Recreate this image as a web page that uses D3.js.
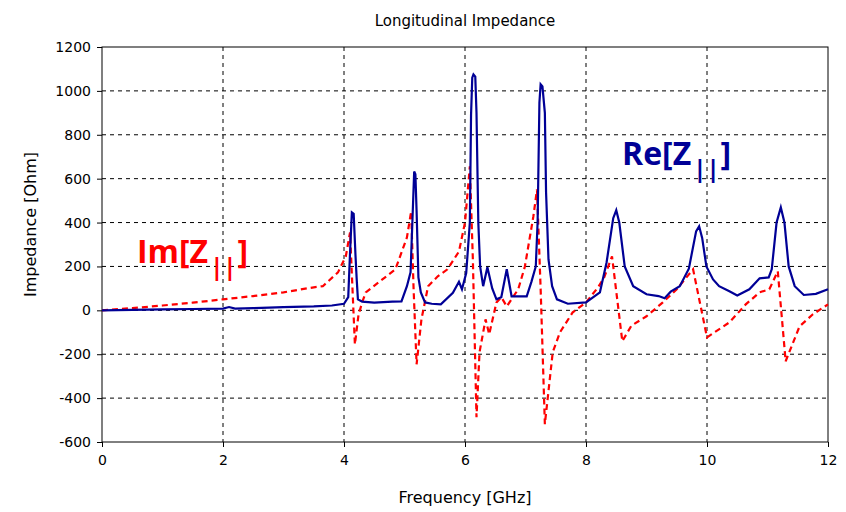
<!DOCTYPE html>
<html>
<head>
<meta charset="utf-8">
<script src="https://d3js.org/d3.v7.min.js"></script>
<style>
  body { margin: 0; background: #fff; }
  text { font-family: "DejaVu Sans", sans-serif; }
</style>
</head>
<body>
<div id="chart"></div>
<script>
// tick values
const xTicks = [0, 2, 4, 6, 8, 10, 12];
const yTicks = [-600, -400, -200, 0, 200, 400, 600, 800, 1000, 1200];

// Re[Z||] (solid blue)
const reFreq = [0, 0.5, 1.0, 1.5, 2.0, 2.1, 2.2, 2.5, 3.0, 3.5, 3.8, 4.0, 4.07, 4.1, 4.13, 4.16, 4.19, 4.21, 4.23, 4.3, 4.5, 4.8,
  4.95, 5.04, 5.1, 5.13, 5.16, 5.18, 5.2, 5.23, 5.27, 5.34, 5.45, 5.6, 5.8, 5.9, 5.95, 6.02, 6.08, 6.1, 6.12, 6.14, 6.17, 6.19,
  6.22, 6.25, 6.3, 6.37, 6.45, 6.52, 6.6, 6.69, 6.77, 7.02, 7.1, 7.17, 7.2, 7.23, 7.25, 7.28, 7.32, 7.34, 7.38, 7.44, 7.52, 7.7,
  8.0, 8.23, 8.34, 8.45, 8.5, 8.55, 8.64, 8.78, 9.0, 9.2, 9.3, 9.4, 9.55, 9.7, 9.82, 9.87, 9.92, 9.99, 10.1, 10.2, 10.37, 10.5,
  10.7, 10.87, 11.02, 11.07, 11.15, 11.22, 11.28, 11.35, 11.45, 11.6, 11.8, 12];
const reVal = [0, 2, 4, 6, 8, 15, 8, 10, 15, 18, 22, 30, 60, 264, 446, 440, 250, 141, 50, 40, 35, 40,
  41, 110, 173, 400, 633, 620, 450, 150, 82, 36, 30, 27, 80, 130, 96, 170, 400, 890, 1060, 1075, 1065, 900,
  400, 200, 110, 196, 100, 50, 60, 187, 64, 64, 132, 200, 400, 946, 1030, 1020, 900, 537, 232, 110, 50, 30,
  36, 82, 218, 420, 456, 400, 200, 110, 73, 65, 55, 85, 110, 190, 360, 383, 330, 200, 141, 110, 87, 68,
  96, 146, 150, 187, 400, 469, 400, 200, 110, 70, 75, 96];

// Im[Z||] (dashed red)
const imFreq = [0, 0.5, 1, 1.5, 2, 2.5, 3, 3.5, 3.65, 3.9, 4.03, 4.1, 4.14, 4.18, 4.24, 4.3, 4.36, 4.57, 4.85, 5.04, 5.11,
  5.15, 5.2, 5.28, 5.39, 5.55, 5.71, 5.9, 6.0, 6.08, 6.13, 6.19, 6.24, 6.34, 6.4, 6.52, 6.6, 6.69, 6.88, 6.99, 7.13, 7.19,
  7.25, 7.32, 7.45, 7.57, 7.78, 8.0, 8.2, 8.3, 8.43, 8.6, 8.75, 9.0, 9.27, 9.5, 9.77, 10.0, 10.37, 10.64, 10.87, 11.03,
  11.17, 11.3, 11.53, 11.75, 12];
const imVal = [0, 10, 22, 35, 50, 65, 82, 105, 110, 173, 246, 355, 100, -155, -20, 36, 82, 127, 187, 332, 451,
  100, -246, -41, 110, 155, 187, 268, 400, 656, 232, -487, -191, -41, -109, 36, 60, 18, 96, 200, 428, 551,
  100, -519, -191, -100, -9, 36, 105, 150, 246, -141, -70, -27, 36, 96, 187, -123, -55, 27, 82, 96,
  178, -232, -73, -18, 27];

const W = 846, H = 512;
const margin = { top: 47, right: 18, bottom: 70, left: 102 };
const width = W - margin.left - margin.right;
const height = H - margin.top - margin.bottom;

const svg = d3.select("#chart").append("svg")
    .attr("width", W)
    .attr("height", H);

const g = svg.append("g")
    .attr("transform", "translate(" + margin.left + "," + margin.top + ")");

const x = d3.scaleLinear().domain([0, 12]).range([0, width]);
const y = d3.scaleLinear().domain([-600, 1200]).range([height, 0]);

// grid
g.append("g").selectAll("line")
    .data(xTicks.slice(1, -1))
    .enter().append("line")
    .attr("x1", d => x(d)).attr("x2", d => x(d))
    .attr("y1", 0).attr("y2", height)
    .attr("stroke", "#000").attr("stroke-width", 1)
    .attr("stroke-dasharray", "4,4");

g.append("g").selectAll("line")
    .data(yTicks.slice(1, -1))
    .enter().append("line")
    .attr("x1", 0).attr("x2", width)
    .attr("y1", d => y(d)).attr("y2", d => y(d))
    .attr("stroke", "#000").attr("stroke-width", 1)
    .attr("stroke-dasharray", "4,4");

// frame
g.append("rect")
    .attr("width", width).attr("height", height)
    .attr("fill", "none").attr("stroke", "#000").attr("stroke-width", 1);

// axes (plain hyphen for negatives, like the original)
const xAxis = g.append("g")
    .attr("transform", "translate(0," + height + ")")
    .call(d3.axisBottom(x).tickValues(xTicks).tickSize(5).tickPadding(8).tickFormat(d => String(d)));
const yAxis = g.append("g")
    .call(d3.axisLeft(y).tickValues(yTicks).tickSize(5).tickPadding(6).tickFormat(d => String(d)));

[xAxis, yAxis].forEach(a => {
    a.select(".domain").remove();
    a.selectAll("text")
        .style("font-family", "'DejaVu Sans', sans-serif")
        .style("font-size", "14px")
        .attr("fill", "#000");
});

// lines
const line = d3.line()
    .x(d => x(d[0]))
    .y(d => y(d[1]));

const reData = reFreq.map((f, i) => [f, reVal[i]]);
const imData = imFreq.map((f, i) => [f, imVal[i]]);

g.append("path")
    .datum(imData)
    .attr("fill", "none")
    .attr("stroke", "#ff0000")
    .attr("stroke-width", 2.2)
    .attr("stroke-dasharray", "6,4")
    .attr("d", line);

g.append("path")
    .datum(reData)
    .attr("fill", "none")
    .attr("stroke", "#000096")
    .attr("stroke-width", 2.2)
    .attr("d", line);

// titles
svg.append("text")
    .attr("x", margin.left + width / 2)
    .attr("y", 26)
    .attr("text-anchor", "middle")
    .style("font-size", "15px")
    .text("Longitudinal Impedance");

svg.append("text")
    .attr("x", margin.left + width / 2)
    .attr("y", 503)
    .attr("text-anchor", "middle")
    .style("font-size", "16px")
    .text("Frequency [GHz]");

svg.append("text")
    .attr("transform", "translate(36," + (margin.top + height / 2 - 20) + ") rotate(-90)")
    .attr("text-anchor", "middle")
    .style("font-size", "16px")
    .text("Impedance [Ohm]");

// annotations
function label(txt, px, py, color) {
    const t = svg.append("text")
        .attr("x", px).attr("y", py)
        .attr("fill", color)
        .style("font-family", "'Open Sans', 'Liberation Sans', sans-serif")
        .style("font-weight", "bold")
        .style("font-size", "32px");
    t.append("tspan").text(txt + "[Z");
    t.append("tspan").attr("dy", 12).attr("dx", 2).style("font-size", "24px").text("||");
    t.append("tspan").attr("dy", -12).attr("dx", 1).text("]");
}
label("Re", 622, 165, "#000096");
label("Im", 137, 263, "#ff0000");
</script>
</body>
</html>
